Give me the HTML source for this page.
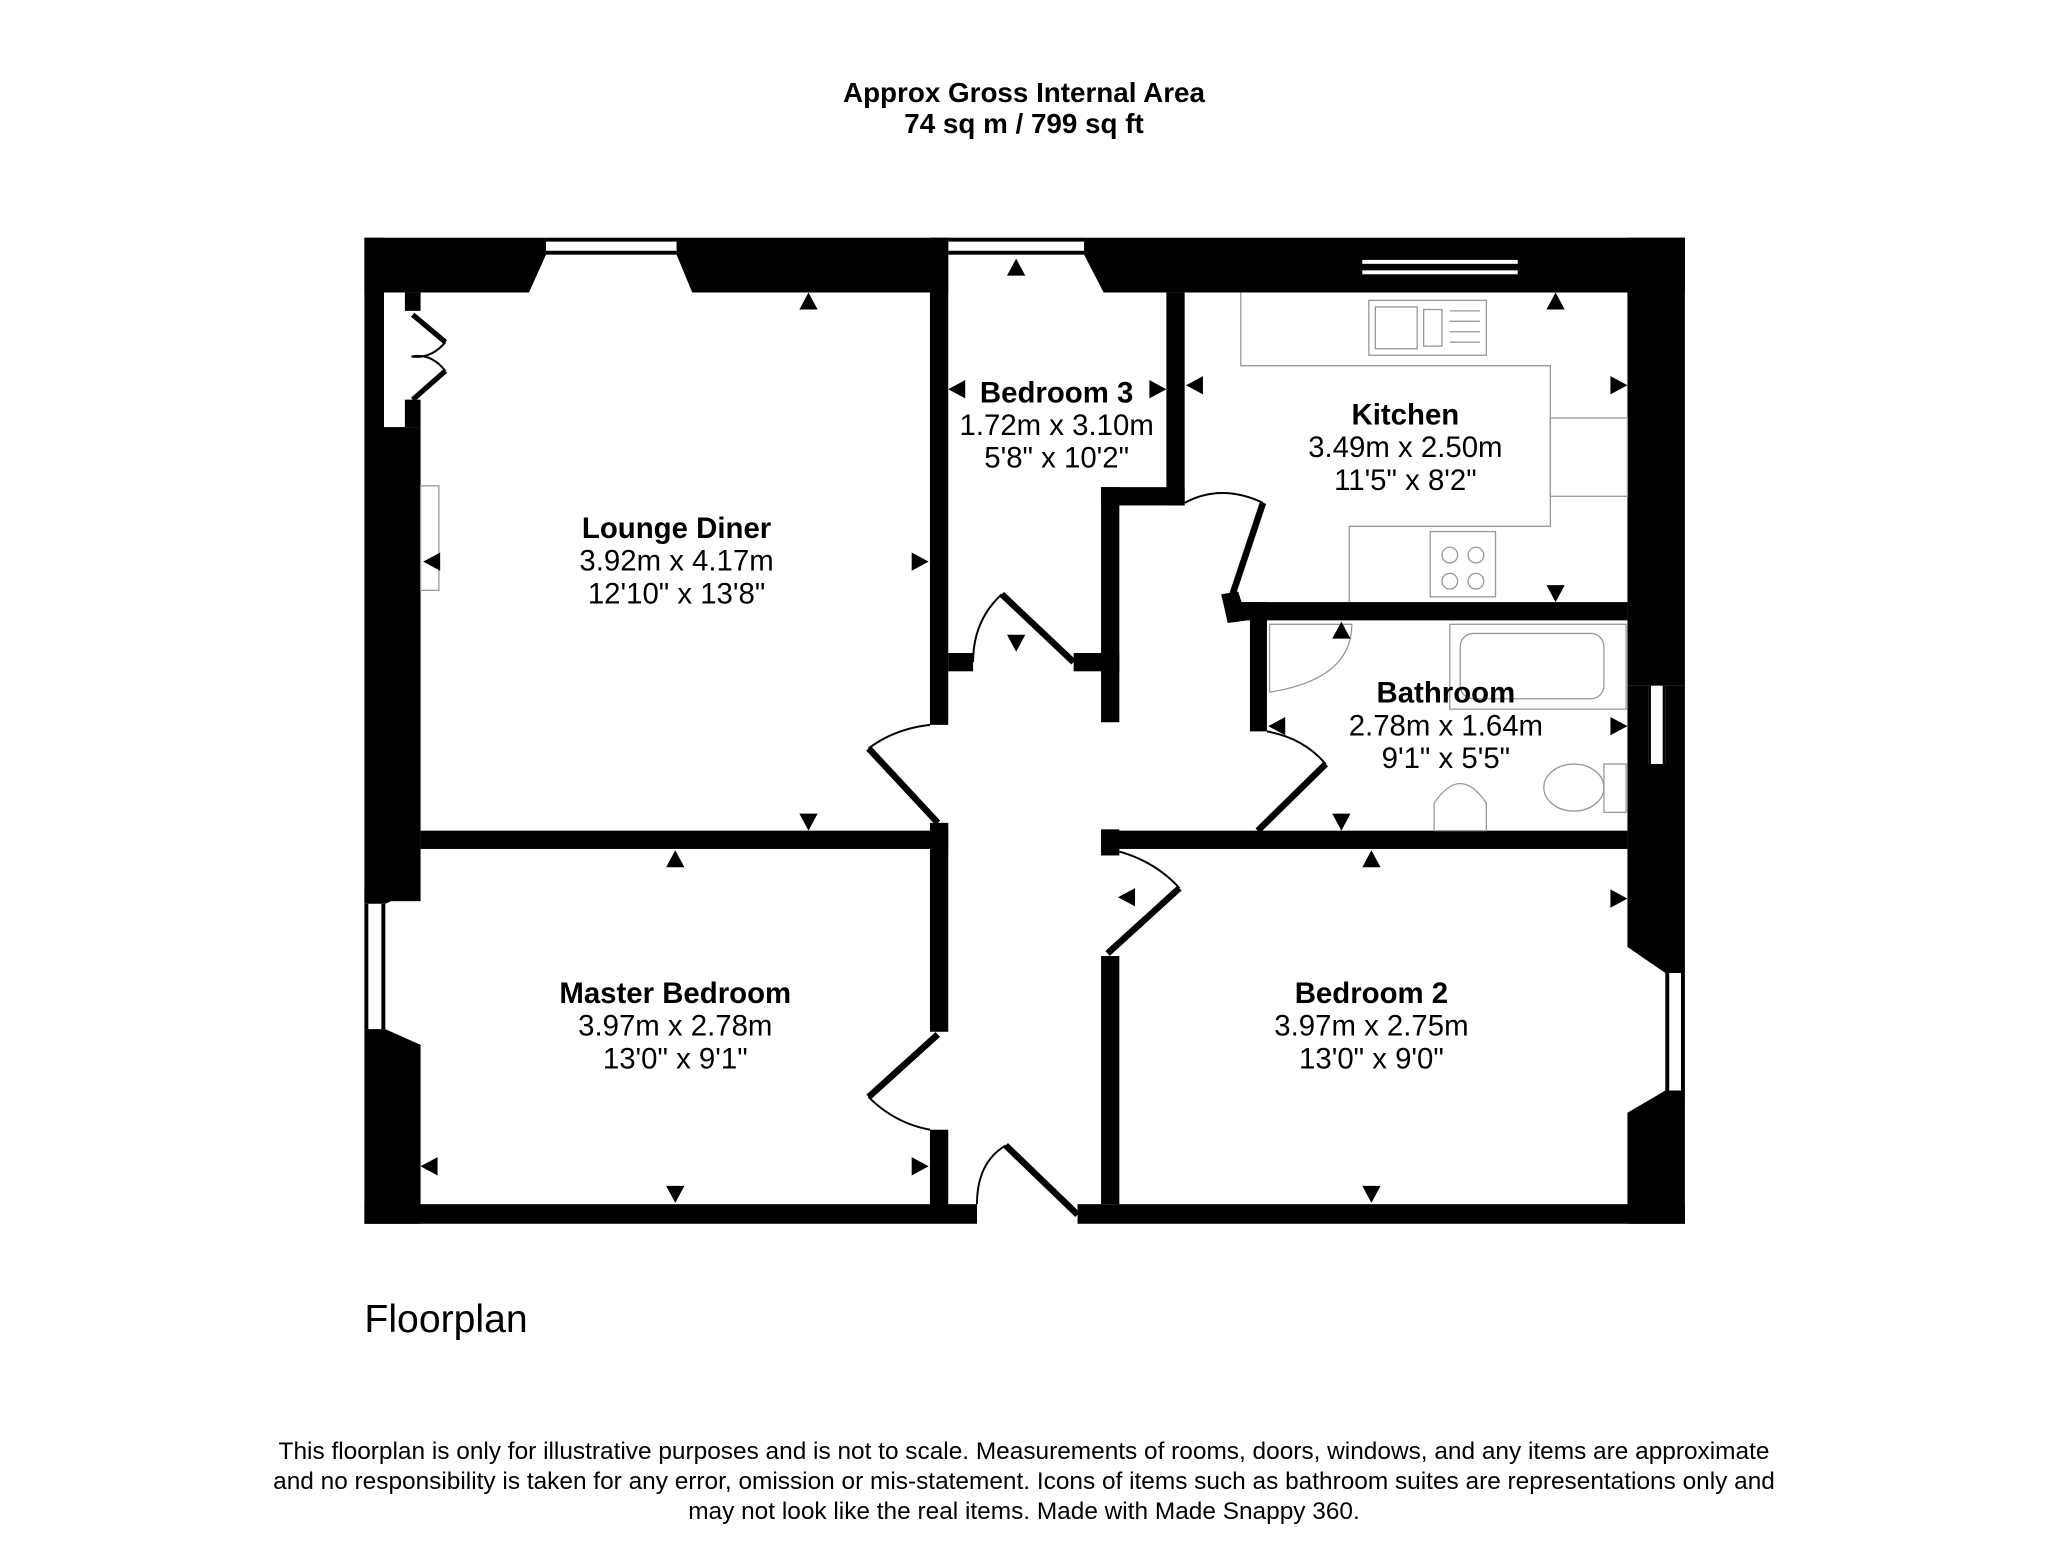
<!DOCTYPE html>
<html><head><meta charset="utf-8"><style>
html,body{margin:0;padding:0;background:#fff;}
svg{display:block;}
text{font-family:"Liberation Sans",Arial,sans-serif;fill:#000;}
</style></head><body>
<svg width="2048" height="1564" viewBox="0 0 1568 1197.5" preserveAspectRatio="none" xmlns="http://www.w3.org/2000/svg">
<rect x="0" y="0" width="1568" height="1198" fill="#fff"/>
<text x="784" y="78" font-size="21.3" font-weight="bold" text-anchor="middle">Approx Gross Internal Area</text>
<text x="784" y="102" font-size="21.3" font-weight="bold" text-anchor="middle">74 sq m / 799 sq ft</text>

<g fill="#000">
<polygon points="279,182 418,182 418,195 405,224 279,224"/>
<polygon points="518,182 726,182 726,224 530,224 518,195"/>
<rect x="418" y="182" width="100" height="3"/><rect x="418" y="192" width="100" height="3"/>
<rect x="726" y="182" width="104" height="3"/><rect x="726" y="192" width="104" height="3"/>
<polygon points="830,182 1290,182 1290,224 845,224 830,195"/>
<rect x="279" y="182" width="15" height="508"/>
<rect x="293" y="327" width="29" height="363"/>
<rect x="310" y="224" width="12" height="14"/>
<rect x="310" y="306" width="12" height="21"/>
<polygon points="279,680 322,680 295,692 279,692"/>
<rect x="279" y="692" width="3" height="96"/><rect x="292" y="692" width="3" height="96"/>
<polygon points="279,788 295,788 322,800 322,937 279,937"/>
<rect x="1246" y="182" width="44" height="343"/>
<rect x="1246" y="525" width="16" height="60"/><rect x="1275" y="525" width="15" height="60"/>
<rect x="1262" y="525" width="2" height="60"/><rect x="1273" y="525" width="2" height="60"/>
<polygon points="1246,585 1290,585 1290,745 1275,745 1246,725"/>
<rect x="1275" y="745" width="3" height="90"/><rect x="1287" y="745" width="3" height="90"/>
<polygon points="1275,835 1290,835 1290,937 1246,937 1246,852"/>
<rect x="279" y="922" width="469" height="15"/>
<rect x="825" y="922" width="465" height="15"/>
<rect x="712" y="182" width="14" height="373"/>
<rect x="712" y="630" width="14" height="160"/>
<rect x="712" y="865" width="14" height="60"/>
<rect x="726" y="500" width="19" height="14"/>
<rect x="822" y="500" width="35" height="14"/>
<rect x="893" y="224" width="14" height="163"/>
<rect x="843" y="373" width="64" height="14"/>
<rect x="843" y="373" width="14" height="180"/>
<rect x="843" y="635" width="14" height="20"/>
<rect x="843" y="732" width="14" height="190"/>
<rect x="322" y="636" width="404" height="14"/>
<rect x="843" y="636" width="403" height="14"/>
<rect x="950" y="461" width="296" height="14"/>
<rect x="957" y="461" width="13" height="99"/>
<polygon points="935,455 948,453 955,475 940,477"/>
</g>
<rect x="1043" y="199" width="119" height="3" fill="#fff"/>
<rect x="1043" y="207" width="119" height="3" fill="#fff"/>

<g stroke="#000" stroke-width="5" fill="none">
<line x1="770" y1="877" x2="825" y2="930"/>
<line x1="767" y1="455" x2="822" y2="507"/>
<line x1="665" y1="573" x2="718" y2="630"/>
<line x1="718" y1="792" x2="665" y2="840"/>
<line x1="903" y1="680" x2="848" y2="730"/>
<line x1="1015" y1="585" x2="963" y2="636"/>
<line x1="967" y1="385" x2="942" y2="460"/>
<line x1="316" y1="241" x2="341" y2="262" stroke-width="4"/>
<line x1="341" y1="284" x2="316" y2="306" stroke-width="4"/>
</g>
<g stroke="#000" stroke-width="1.5" fill="none">
<path d="M748,922 Q748,890 770,877"/>
<path d="M745,507 Q745,475 767,455"/>
<path d="M712,555 Q685,558 665,573"/>
<path d="M665,840 Q685,860 712,865"/>
<path d="M857,652 Q885,660 903,680"/>
<path d="M970,560 Q998,565 1015,585"/>
<path d="M907,385 Q935,370 967,385"/>
<path d="M341,262 Q330,275 315,273 M341,284 Q330,270 315,273"/>
</g>

<g stroke="#999" stroke-width="1" fill="none">
<polyline points="950,224 950,280 1187,280 1187,403 1033,403 1033,461"/>
<rect x="1187" y="320" width="59" height="60"/>
<rect x="1048" y="230" width="90" height="42"/>
<rect x="1053" y="235" width="32" height="32"/><rect x="1090" y="237" width="14" height="28"/>
<line x1="1110" y1="238" x2="1133" y2="238"/><line x1="1110" y1="246" x2="1133" y2="246"/>
<line x1="1110" y1="254" x2="1133" y2="254"/><line x1="1110" y1="262" x2="1133" y2="262"/>
<rect x="1095" y="407" width="50" height="50"/>
<circle cx="1110" cy="425" r="6"/><circle cx="1130" cy="425" r="6"/>
<circle cx="1110" cy="445" r="6"/><circle cx="1130" cy="445" r="6"/>
<rect x="322" y="372" width="14" height="80"/>
<path d="M972,478 L1035,478 Q1035,520 972,530 Z"/>
<rect x="1110" y="478" width="135" height="65"/>
<rect x="1118" y="485" width="110" height="50" rx="10"/>
<rect x="1228" y="585" width="17" height="37"/>
<ellipse cx="1205" cy="603" rx="23" ry="18"/>
<path d="M1098,636 L1098,615 Q1118,585 1138,615 L1138,636 Z"/>
</g>

<g fill="#000">
<polygon points="612,237 626,237 619,224"/><polygon points="612,623 626,623 619,636"/>
<polygon points="337,423 337,437 324,430"/><polygon points="698,423 698,437 711,430"/>
<polygon points="771,211 785,211 778,198"/><polygon points="771,486 785,486 778,499"/>
<polygon points="739,291 739,305 726,298"/><polygon points="880,291 880,305 893,298"/>
<polygon points="1184,237 1198,237 1191,224"/><polygon points="1184,448 1198,448 1191,461"/>
<polygon points="921,288 921,302 908,295"/><polygon points="1233,288 1233,302 1246,295"/>
<polygon points="1020,489 1034,489 1027,476"/><polygon points="1020,623 1034,623 1027,636"/>
<polygon points="984,549 984,563 971,556"/><polygon points="1233,549 1233,563 1246,556"/>
<polygon points="510,664 524,664 517,651"/><polygon points="510,908 524,908 517,921"/>
<polygon points="335,886 335,900 322,893"/><polygon points="698,886 698,900 711,893"/>
<polygon points="1043,664 1057,664 1050,651"/><polygon points="1043,908 1057,908 1050,921"/>
<polygon points="869,680 869,694 856,687"/><polygon points="1233,681 1233,695 1246,688"/>
</g>

<g text-anchor="middle" font-size="22.5">
<text x="518" y="412" font-weight="bold">Lounge Diner</text>
<text x="518" y="437">3.92m x 4.17m</text>
<text x="518" y="462">12'10" x 13'8"</text>
<text x="809" y="308" font-weight="bold">Bedroom 3</text>
<text x="809" y="333">1.72m x 3.10m</text>
<text x="809" y="358">5'8" x 10'2"</text>
<text x="1076" y="325" font-weight="bold">Kitchen</text>
<text x="1076" y="350">3.49m x 2.50m</text>
<text x="1076" y="375">11'5" x 8'2"</text>
<text x="1107" y="538" font-weight="bold">Bathroom</text>
<text x="1107" y="563">2.78m x 1.64m</text>
<text x="1107" y="588">9'1" x 5'5"</text>
<text x="517" y="768" font-weight="bold">Master Bedroom</text>
<text x="517" y="793">3.97m x 2.78m</text>
<text x="517" y="818">13'0" x 9'1"</text>
<text x="1050" y="768" font-weight="bold">Bedroom 2</text>
<text x="1050" y="793">3.97m x 2.75m</text>
<text x="1050" y="818">13'0" x 9'0"</text>
</g>
<text x="279" y="1020" font-size="30">Floorplan</text>
<g text-anchor="middle" font-size="18.7">
<text x="784" y="1117">This floorplan is only for illustrative purposes and is not to scale. Measurements of rooms, doors, windows, and any items are approximate</text>
<text x="784" y="1140">and no responsibility is taken for any error, omission or mis-statement. Icons of items such as bathroom suites are representations only and</text>
<text x="784" y="1163">may not look like the real items. Made with Made Snappy 360.</text>
</g>
</svg>
</body></html>
